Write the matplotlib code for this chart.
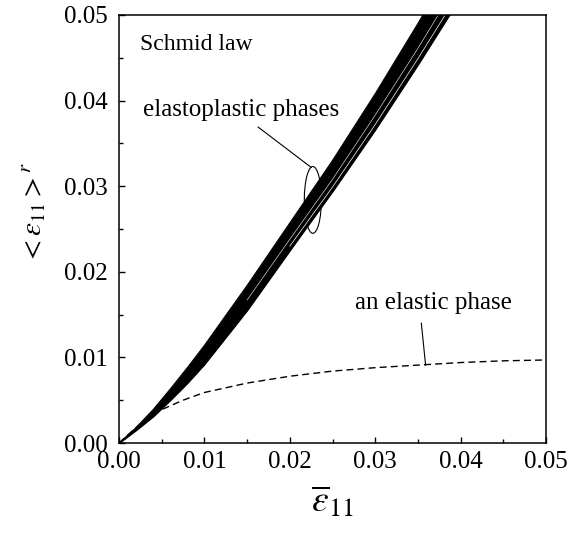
import matplotlib
matplotlib.use("Agg")
import matplotlib.pyplot as plt
from matplotlib.patches import Ellipse

plt.rcParams["font.family"] = ["Liberation Serif", "DejaVu Serif"]
plt.rcParams["mathtext.fontset"] = "stix"

# macroscopic strain (shared abscissa of the phase curves)
macro_strain = [0.0, 0.002, 0.004, 0.006, 0.008, 0.010, 0.015, 0.020, 0.025, 0.030, 0.035, 0.040]

# elastoplastic phases: envelope and individual curves of the bundle
phase_upper = [0.0, 0.0018, 0.0039, 0.0063, 0.0088, 0.0114, 0.0184, 0.0257, 0.0330, 0.0408, 0.0490, 0.0575]
phase_mid = [0.0, 0.0016, 0.0034, 0.0055, 0.0077, 0.0101, 0.0167, 0.0238, 0.0308, 0.0383, 0.0461, 0.0543]
phase_inner = [0.0, 0.0015, 0.0032, 0.0052, 0.0073, 0.0095, 0.0159, 0.0230, 0.0299, 0.0372, 0.0449, 0.0529]
phase_lower = [0.0, 0.0015, 0.0031, 0.0050, 0.0070, 0.0092, 0.0155, 0.0225, 0.0294, 0.0366, 0.0442, 0.0521]

# elastic phase
elastic_x = [0.0, 0.003, 0.005, 0.0075, 0.010, 0.015, 0.020, 0.025, 0.030, 0.035, 0.040, 0.045, 0.050]
elastic_y = [0.0, 0.0027, 0.0039, 0.0050, 0.0059, 0.0070, 0.0078, 0.0084, 0.0088, 0.0091, 0.0094, 0.0096, 0.0097]

ticks = [0.00, 0.01, 0.02, 0.03, 0.04, 0.05]
tick_labels = ["0.00", "0.01", "0.02", "0.03", "0.04", "0.05"]

fig = plt.figure(figsize=(5.71, 5.35), dpi=100)
ax = fig.add_axes([119 / 571, (535 - 443) / 535, 427 / 571, 428 / 535])

# dense bundle of phase curves, with the hairline gaps between sub-bundles
ax.fill_between(macro_strain, phase_lower, phase_upper, color="black", lw=0.8)
ax.plot(macro_strain, phase_upper, color="black", lw=0.8)
ax.plot(macro_strain, phase_lower, color="black", lw=0.8)
ax.plot(macro_strain[6:], phase_mid[6:], color="white", lw=0.4)
ax.plot(macro_strain[7:], phase_inner[7:], color="white", lw=0.5)

ax.plot(elastic_x, elastic_y, color="black", lw=1.0, dashes=(5, 3))

ax.set_xlim(0, 0.05)
ax.set_ylim(0, 0.05)
ax.set_xticks(ticks)
ax.set_xticklabels(tick_labels)
ax.set_yticks(ticks)
ax.set_yticklabels(tick_labels)
ax.set_xticks([0.005, 0.015, 0.025, 0.035, 0.045], minor=True)
ax.set_yticks([0.005, 0.015, 0.025, 0.035, 0.045], minor=True)
ax.tick_params(which="both", direction="in", top=False, right=False, width=1.0)
ax.tick_params(which="major", length=4.5, labelsize=18)
ax.tick_params(axis="y", which="major", pad=8)
ax.tick_params(axis="x", which="major", pad=6)
ax.tick_params(which="minor", length=3.0)
for s in ax.spines.values():
    s.set_linewidth(1.1)

ax.text(0.0025, 0.0466, "Schmid law", fontsize=17, va="center", ha="left")

ax.text(0.0028, 0.0389, "elastoplastic phases", fontsize=18, va="center", ha="left")
ax.plot([0.0163, 0.0225], [0.0369, 0.0322], color="black", lw=0.8)
ax.add_patch(Ellipse((0.0227, 0.0284), 0.002, 0.0078, fill=False, ec="black", lw=0.8))

ax.text(0.0276, 0.0164, "an elastic phase", fontsize=18, va="center", ha="left")
ax.plot([0.0354, 0.0359], [0.0140, 0.0091], color="black", lw=0.8)

ax.set_ylabel(r"$<\varepsilon_{11}>^{r}$", fontsize=21)
ax.yaxis.set_label_coords(-0.166, 0.537)
ax.set_xlabel(r"$\overline{\varepsilon}_{11}$", fontsize=27, labelpad=8)

fig.savefig("out.png", dpi=100)
